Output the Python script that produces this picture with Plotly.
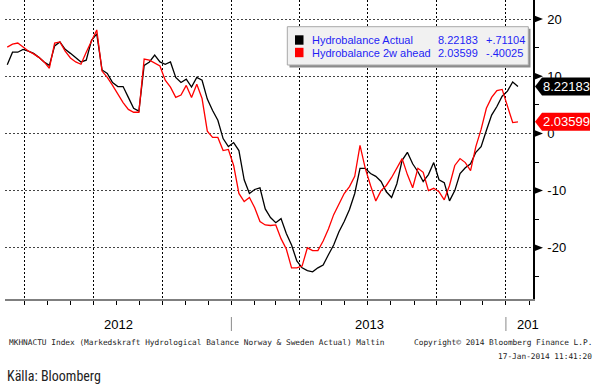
import pandas as pd
import plotly.graph_objects as go

# ---------------- data ----------------
dates = pd.date_range(end="2014-01-17", periods=98, freq="7D")

actual = [12.0, 14.2, 14.2, 14.7, 14.4, 14.0, 13.3, 12.5, 11.9, 15.3,
          16.0, 14.7, 14.0, 13.2, 12.5, 12.8, 16.3, 17.4, 11.1, 10.5,
          8.9, 8.2, 8.2, 6.3, 4.4, 3.9, 11.9, 12.5, 13.7, 12.5,
          12.1, 12.5, 9.8, 8.9, 9.5, 8.1, 9.8, 9.3, 6.0, 4.0,
          2.3, -0.9, -2.3, -1.6, -3.0, -8.1, -10.5, -9.8, -9.5, -13.2,
          -14.7, -15.6, -14.9, -17.5, -19.5, -22.3, -23.5, -24.0, -24.2, -23.5,
          -23.0, -21.2, -19.5, -17.2, -15.4, -13.3, -10.5, -6.1, -6.1, -7.0,
          -7.5, -8.4, -10.2, -11.2, -8.8, -4.7, -3.3, -5.3, -6.7, -8.4,
          -7.2, -5.1, -8.1, -8.6, -11.8, -10.0, -7.0, -6.0, -5.3, -3.3,
          -2.3, 0.5, 3.2, 4.7, 6.5, 7.4, 9.0, 8.22183]

ahead = [15.1, 15.6, 15.8, 15.1, 14.4, 13.9, 13.3, 12.5, 11.4, 15.8,
         16.0, 14.4, 13.2, 12.5, 12.1, 14.2, 16.3, 18.1, 10.9, 9.8,
         8.4, 6.8, 5.4, 4.2, 3.7, 3.7, 13.0, 12.8, 12.3, 11.8,
         9.3, 8.1, 6.3, 6.7, 8.4, 6.3, 8.6, 6.1, 0.4, -0.7,
         -0.7, -3.0, -2.8, -5.6, -10.5, -11.9, -11.2, -13.0, -15.4, -16.0,
         -16.1, -16.0, -18.4, -20.2, -23.5, -23.5, -23.2, -20.0, -20.5, -20.5,
         -18.8, -16.7, -14.2, -12.3, -10.5, -9.3, -7.5, -2.1, -6.1, -9.1,
         -11.8, -10.0, -9.1, -7.7, -6.0, -4.4, -7.2, -9.5, -6.1, -6.8,
         -10.0, -9.6, -10.2, -11.6, -9.1, -5.6, -4.4, -5.1, -6.5, -2.3,
         0.7, 4.4, 6.3, 7.5, 7.7, 4.7, 1.9, 2.03599]

series_names = ["Hydrobalance Actual", "Hydrobalance 2w ahead"]
last_values = ["8.22183", "2.03599"]
changes = ["+.71104", "-.40025"]
series_colors = ["#000000", "#ff0000"]

y_ticks = [-20, -10, 0, 10, 20]
y_minor = [-25, -15, -5, 5, 15]
year_labels = ["2012", "2013", "201"]

# ---------------- geometry helpers ----------------
W, H = 597, 389
L, R, T, B = 5, 64, 0, 90
PW, PH = W - L - R, H - T - B


def px(xp):
    return (xp - L) / PW


def py(yp):
    return 1 - (yp - T) / PH


fig = go.Figure()
for vals, name, col in zip([actual, ahead], series_names, series_colors):
    fig.add_trace(go.Scatter(x=dates, y=vals, mode="lines", name=name,
                             line=dict(color=col, width=1.3), showlegend=False))

shapes = []
annotations = []

# right-axis triangles on major ticks
for v in y_ticks:
    shapes.append(dict(type="path", xref="paper", yref="y", xsizemode="pixel", ysizemode="pixel",
                       xanchor=1, yanchor=v, path="M0,-4 L10,0 L0,4 Z",
                       fillcolor="black", line=dict(width=0), layer="above"))

# value tags on the right axis
for val, txt, col in zip([actual[-1], ahead[-1]], last_values, series_colors):
    shapes.append(dict(type="path", xref="paper", yref="y", xsizemode="pixel", ysizemode="pixel",
                       xanchor=1, yanchor=val, path="M2,0 L9,9 L57,9 L57,-9 L9,-9 Z",
                       fillcolor=col, line=dict(width=0), layer="above"))
    annotations.append(dict(xref="paper", yref="y", x=1, y=val, xanchor="left", yanchor="middle",
                            xshift=8, text=txt, showarrow=False,
                            font=dict(family="Liberation Sans, Arial", size=13, color="white")))

# legend box with shadow
shapes.append(dict(type="rect", xref="paper", yref="paper", x0=px(289.5), x1=px(530.5),
                   y0=py(67.5), y1=py(28.7), fillcolor="#8c8c8c", line=dict(width=0), layer="above"))
shapes.append(dict(type="rect", xref="paper", yref="paper", x0=px(287.3), x1=px(528.3),
                   y0=py(65), y1=py(26.7), fillcolor="#f1f1f1", line=dict(color="#a8a8a8", width=1),
                   layer="above"))
row_y = [40, 52.5]
for ry, name, lv, ch, col in zip(row_y, series_names, last_values, changes, series_colors):
    shapes.append(dict(type="rect", xref="paper", yref="paper", x0=px(295), x1=px(303.5),
                       y0=py(ry + 4.7), y1=py(ry - 4.7), fillcolor=col, line=dict(width=0), layer="above"))
    for xx, t in [(310, name), (435.5, lv), (484, ch)]:
        annotations.append(dict(xref="paper", yref="paper", x=px(xx), y=py(ry), xanchor="left",
                                yanchor="middle", text=t, showarrow=False,
                                font=dict(family="Liberation Sans, Arial", size=11, color="#1f1ff5")))

# year separators and labels below the axis
x_start, x_end = pd.Timestamp("2012-03-06"), pd.Timestamp("2014-02-06")
for ys in ["2013-01-01", "2014-01-01"]:
    shapes.append(dict(type="line", xref="x", yref="paper", x0=ys, x1=ys, y0=py(317), y1=py(331),
                       line=dict(color="#8a8a8a", width=1)))
year_pos = [x_start + (pd.Timestamp("2013-01-01") - x_start) / 2,
            pd.Timestamp("2013-07-03"), pd.Timestamp("2014-01-01")]
for i, (yl, xp) in enumerate(zip(year_labels, year_pos)):
    annotations.append(dict(xref="x", yref="paper", x=xp, y=py(324), text=yl, showarrow=False,
                            xanchor="left" if i == 2 else "center", yanchor="middle",
                            xshift=9 if i == 2 else 0,
                            font=dict(family="Liberation Sans, Arial", size=13, color="black")))

# footer texts
mono = dict(family="DejaVu Sans Mono, monospace", size=7.8, color="#222222")
annotations.append(dict(xref="paper", yref="paper", x=px(6.5), y=py(343), xanchor="left", yanchor="middle",
                        showarrow=False, font=mono,
                        text="MKHNACTU Index (Markedskraft Hydrological Balance Norway & Sweden Actual) Maltin"))
annotations.append(dict(xref="paper", yref="paper", x=px(594), y=py(343), xanchor="right", yanchor="middle",
                        showarrow=False, font=mono, text="Copyright© 2014 Bloomberg Finance L.P."))
annotations.append(dict(xref="paper", yref="paper", x=px(594), y=py(356), xanchor="right", yanchor="middle",
                        showarrow=False, font=mono, text="17-Jan-2014 11:41:20"))
annotations.append(dict(xref="paper", yref="paper", x=px(5), y=py(376), xanchor="left", yanchor="middle",
                        showarrow=False, text="Källa: Bloomberg",
                        font=dict(family="Liberation Sans Narrow, Roboto Condensed, Liberation Sans",
                                  size=14, color="#222222")))

fig.update_layout(
    width=W, height=H,
    margin=dict(l=L, r=R, t=T, b=B),
    paper_bgcolor="white", plot_bgcolor="white",
    showlegend=False,
    shapes=shapes, annotations=annotations,
    xaxis=dict(range=[x_start, x_end], showgrid=True, gridcolor="#000000", gridwidth=1,
               griddash="2px,2px", dtick="M3", tick0="2012-01-01", showticklabels=False,
               ticks="outside", ticklen=4, tickcolor="black", tickwidth=1,
               minor=dict(dtick="M1", tick0="2012-01-01", ticks="outside", ticklen=4,
                          tickcolor="black", showgrid=False),
               showline=True, linecolor="#7f7f7f", linewidth=2, zeroline=False, fixedrange=True),
    yaxis=dict(side="right", range=[-28.95, 23.33], tickvals=y_ticks,
               ticktext=[str(v) for v in y_ticks],
               showgrid=True, gridcolor="#444444", gridwidth=1, griddash="2px,2px",
               ticks="outside", ticklen=10, tickcolor="rgba(0,0,0,0)",
               minor=dict(tickvals=y_minor, ticks="outside", ticklen=4, tickcolor="black", showgrid=False),
               tickfont=dict(family="Liberation Sans, Arial", size=13, color="black"),
               showline=True, linecolor="black", linewidth=1.5, zeroline=False, fixedrange=True),
)

fig.write_html("out.html", config={"displayModeBar": False},
               post_script="document.body.style.margin='0px';document.body.style.overflow='hidden';")
